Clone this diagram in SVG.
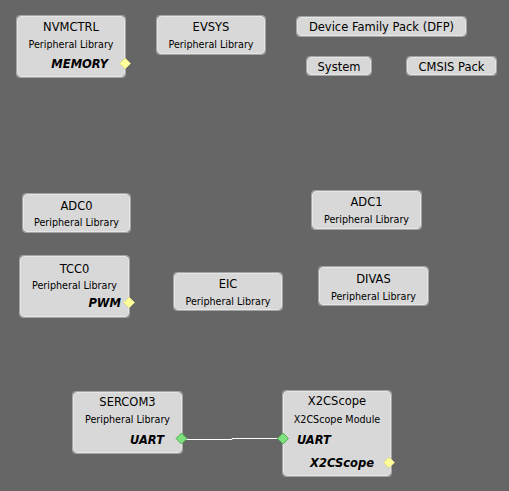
<svg xmlns="http://www.w3.org/2000/svg" width="509" height="491" viewBox="0 0 509 491">
<style>
.n{fill:#d8d8d8;stroke:#e6e6e6;stroke-width:1}
.o{fill:none;stroke:#a4a4a4;stroke-width:1}
.t{font-family:"DejaVu Sans",Verdana,sans-serif;font-size:11.5px;fill:#000;text-anchor:middle}
.s{font-family:"DejaVu Sans",Verdana,sans-serif;font-size:9.6px;fill:#000;text-anchor:middle}
.b{font-family:"DejaVu Sans",Verdana,sans-serif;font-size:11.5px;font-weight:bold;font-style:italic;fill:#000}
.y{fill:#ffff99;stroke:#d8d890;stroke-width:1}
.g{fill:#7fe07f;stroke:#50b050;stroke-width:1}
.c{fill:none;stroke:#ffffff;stroke-width:1}
</style>
<rect width="509" height="491" fill="#666666"/>
<g id="connectors">
<path class="c" d="M181,439.5 H232 V438.5 H283"/>
</g>
<g id="NVMCTRL">
<rect class="o" x="16.5" y="15.5" width="109" height="62" rx="3"/>
<rect class="n" x="17.5" y="16.5" width="107" height="60" rx="3"/>
<text class="t" x="71" y="31">NVMCTRL</text>
<text class="s" x="71" y="48">Peripheral Library</text>
<text class="b" x="108" y="68" text-anchor="end">MEMORY</text>
<path class="y" d="M125,58 L130.5,63.5 L125,69 L119.5,63.5 Z"/>
</g>
<g id="EVSYS">
<rect class="o" x="156.5" y="15.5" width="109" height="39" rx="3"/>
<rect class="n" x="157.5" y="16.5" width="107" height="37" rx="3"/>
<text class="t" x="211" y="31">EVSYS</text>
<text class="s" x="211" y="48">Peripheral Library</text>
</g>
<g id="DFP">
<rect class="o" x="296.5" y="16.5" width="170" height="20" rx="3"/>
<rect class="n" x="297.5" y="17.5" width="168" height="18" rx="3"/>
<text class="t" x="381.5" y="31">Device Family Pack (DFP)</text>
</g>
<g id="System">
<rect class="o" x="306.5" y="56.5" width="65" height="19" rx="3"/>
<rect class="n" x="307.5" y="57.5" width="63" height="17" rx="3"/>
<text class="t" x="339" y="70.5">System</text>
</g>
<g id="CMSIS">
<rect class="o" x="406.5" y="56.5" width="90" height="19" rx="3"/>
<rect class="n" x="407.5" y="57.5" width="88" height="17" rx="3"/>
<text class="t" x="451.5" y="70.5">CMSIS Pack</text>
</g>
<g id="ADC0">
<rect class="o" x="22.5" y="193.5" width="108" height="39" rx="3"/>
<rect class="n" x="23.5" y="194.5" width="106" height="37" rx="3"/>
<text class="t" x="76.5" y="209.5">ADC0</text>
<text class="s" x="76.5" y="226">Peripheral Library</text>
</g>
<g id="ADC1">
<rect class="o" x="311.5" y="190.5" width="110" height="39" rx="3"/>
<rect class="n" x="312.5" y="191.5" width="108" height="37" rx="3"/>
<text class="t" x="366.5" y="206">ADC1</text>
<text class="s" x="366.5" y="223">Peripheral Library</text>
</g>
<g id="TCC0">
<rect class="o" x="19.5" y="255.5" width="110" height="62" rx="3"/>
<rect class="n" x="20.5" y="256.5" width="108" height="60" rx="3"/>
<text class="t" x="74.5" y="273">TCC0</text>
<text class="s" x="74.5" y="289">Peripheral Library</text>
<text class="b" x="121" y="306.5" text-anchor="end">PWM</text>
<path class="y" d="M129,297 L134.5,302.5 L129,308 L123.5,302.5 Z"/>
</g>
<g id="EIC">
<rect class="o" x="173.5" y="272.5" width="109" height="38" rx="3"/>
<rect class="n" x="174.5" y="273.5" width="107" height="36" rx="3"/>
<text class="t" x="228" y="288">EIC</text>
<text class="s" x="228" y="305">Peripheral Library</text>
</g>
<g id="DIVAS">
<rect class="o" x="318.5" y="266.5" width="110" height="39" rx="3"/>
<rect class="n" x="319.5" y="267.5" width="108" height="37" rx="3"/>
<text class="t" x="373.5" y="283">DIVAS</text>
<text class="s" x="373.5" y="300">Peripheral Library</text>
</g>
<g id="SERCOM3">
<rect class="o" x="72.5" y="391.5" width="110" height="62" rx="3"/>
<rect class="n" x="73.5" y="392.5" width="108" height="60" rx="3"/>
<text class="t" x="127.5" y="405.5">SERCOM3</text>
<text class="s" x="127.5" y="423">Peripheral Library</text>
<text class="b" x="164" y="444" text-anchor="end">UART</text>
<path class="g" d="M181.5,433 L187,438.5 L181.5,444 L176,438.5 Z"/>
</g>
<g id="X2CScope">
<rect class="o" x="282.5" y="390.5" width="109" height="86" rx="3"/>
<rect class="n" x="283.5" y="391.5" width="107" height="84" rx="3"/>
<text class="t" x="337" y="404.5">X2CScope</text>
<text class="s" x="337" y="423">X2CScope Module</text>
<text class="b" x="297" y="444">UART</text>
<text class="b" x="374" y="467" text-anchor="end">X2CScope</text>
<path class="g" d="M283,433 L288.5,438.5 L283,444 L277.5,438.5 Z"/>
<path class="y" d="M389,457 L394.5,462.5 L389,468 L383.5,462.5 Z"/>
</g>
</svg>
